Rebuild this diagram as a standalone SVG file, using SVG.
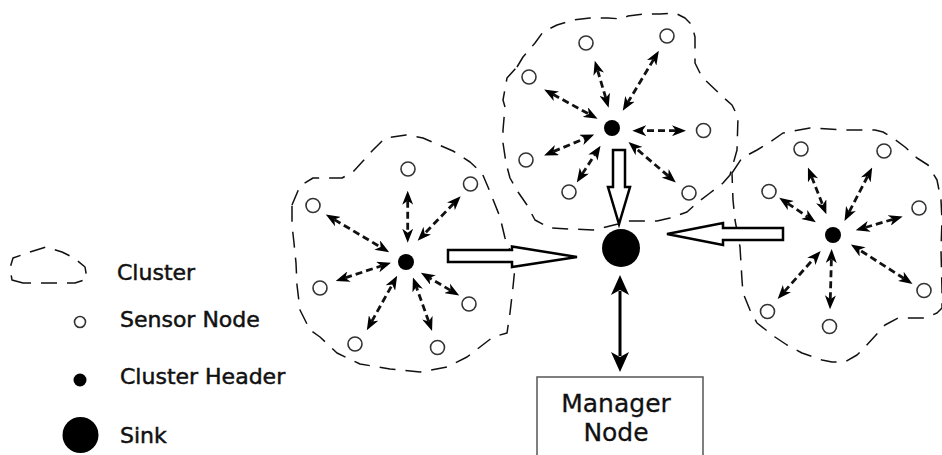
<svg xmlns="http://www.w3.org/2000/svg" width="942" height="455" viewBox="0 0 942 455">
<style>
.outline{fill:none;stroke:#111;stroke-width:1.5;stroke-dasharray:16 10;stroke-linejoin:round}
.sensor{fill:#fff;stroke:#333;stroke-width:1.6}
.head{fill:#000}
.dash{stroke:#111;stroke-width:2.8;stroke-dasharray:7 4;fill:none;marker-start:url(#ah);marker-end:url(#ah)}
.block{fill:#fff;stroke:#000;stroke-width:2.5;stroke-linejoin:miter}
.legend{font-family:"DejaVu Sans",sans-serif;font-size:22px;fill:#111;stroke:#111;stroke-width:0.5}
.mgr{font-family:"DejaVu Sans",sans-serif;font-size:25px;fill:#111;text-anchor:middle;stroke:#111;stroke-width:0.3}
</style>
<defs>
<marker id="ah" viewBox="0 0 14 11" refX="4" refY="5.5" markerWidth="14" markerHeight="11" markerUnits="userSpaceOnUse" orient="auto-start-reverse">
<path d="M0,0 L14,5.5 L0,11 L4,5.5 z" fill="#000"/>
</marker>
<marker id="bh" viewBox="0 0 20 20" refX="4" refY="10" markerWidth="20" markerHeight="20" markerUnits="userSpaceOnUse" orient="auto-start-reverse">
<path d="M0,1 L20,10 L0,19 L5,10 z" fill="#000"/>
</marker>
</defs>
<rect width="942" height="455" fill="#fff"/>

<!-- cluster outlines -->
<g id="cluster-left">
<path class="outline" d="M292,205 L300,186 L313,178 L342,178 L353,172 L373,150 L385,138 L406,135 L423,138 L453,151 L470,162 L482,173 L488,187 L500,217 L505,238 L512,255 L515,267 L513,287 L510,313 L507,333 L493,337 L480,347 L467,357 L447,367 L420,372 L390,369 L360,364 L337,353 L320,337 L310,330 L300,310 L297,285 L296,263 L294,243 L292,225 Z"/>
</g>
<g id="cluster-top">
<path class="outline" d="M517,67 L523,57 L535,43 L543,32 L557,25 L573,20 L590,18 L608,18 L622,19 L628,16 L645,14 L660,14 L675,13 L685,18 L692,25 L695,37 L695,63 L702,77 L723,97 L732,105 L738,117 L737,150 L730,175 L723,183 L710,193 L698,202 L687,212 L670,218 L657,221 L627,221 L618,224 L593,230 L570,229 L550,228 L535,220 L527,205 L518,192 L510,178 L506,163 L503,143 L503,130 L505,107 L503,100 L507,78 Z"/>
</g>
<g id="cluster-right">
<path class="outline" d="M732,173 L742,158 L757,150 L770,142 L783,133 L810,128 L848,130 L875,130 L883,132 L893,138 L905,147 L917,158 L928,165 L937,180 L941,200 L942,220 L941,250 L942,290 L942,308 L937,313 L925,318 L898,318 L885,325 L865,347 L857,355 L845,362 L832,362 L822,360 L802,353 L787,345 L775,337 L757,323 L750,310 L743,293 L742,280 L740,247 L735,220 L733,200 Z"/>
</g>

<!-- connectors -->
<g id="connectors">
<line class="dash" x1="407.7" y1="200.7" x2="407.7" y2="232.7"/>
<line class="dash" x1="453.7" y1="203.5" x2="424.6" y2="233.5"/>
<line class="dash" x1="334.4" y1="219.6" x2="380.6" y2="247.1"/>
<line class="dash" x1="345.2" y1="277.9" x2="381.5" y2="265.8"/>
<line class="dash" x1="371.7" y1="321.5" x2="392.3" y2="284.6"/>
<line class="dash" x1="428.7" y1="321.5" x2="416.3" y2="286.8"/>
<line class="dash" x1="450.6" y1="290.4" x2="429.5" y2="277.9"/>

<line class="dash" x1="597.6" y1="70.3" x2="605.8" y2="98.1"/>
<line class="dash" x1="653.7" y1="59.4" x2="627.9" y2="102.3"/>
<line class="dash" x1="552.9" y1="94.3" x2="588.8" y2="114"/>
<line class="dash" x1="676" y1="130.7" x2="642.3" y2="130.7"/>
<line class="dash" x1="553.3" y1="151.6" x2="585" y2="138.4"/>
<line class="dash" x1="582.2" y1="174.1" x2="595.1" y2="154.2"/>
<line class="dash" x1="668.2" y1="175.9" x2="636.1" y2="148.5"/>

<line class="dash" x1="811.6" y1="176.7" x2="822.7" y2="204.9"/>
<line class="dash" x1="867.6" y1="176.3" x2="849.1" y2="212"/>
<line class="dash" x1="787.5" y1="203.3" x2="807.5" y2="216.7"/>
<line class="dash" x1="893.1" y1="219.3" x2="865.3" y2="227.5"/>
<line class="dash" x1="904.1" y1="278.5" x2="859.3" y2="249.8"/>
<line class="dash" x1="784.3" y1="291.6" x2="814" y2="258.4"/>
<line class="dash" x1="830.3" y1="299.3" x2="831.4" y2="259"/>

<polygon class="block" points="448,250 512,250 512,246.5 577,257 512,267 512,262 448,262"/>
<polygon class="block" points="613,150 625,150 625,187 630,187 619,224 608,187 613,187"/>
<polygon class="block" points="783,228 783,240 723,240 723,245 667,234 723,223 723,228"/>
<line x1="620" y1="291" x2="620" y2="356" stroke="#000" stroke-width="3" marker-start="url(#bh)" marker-end="url(#bh)"/>
</g>

<!-- left cluster nodes -->
<g id="left-header"><circle class="head" cx="406" cy="262" r="8"/></g>
<g id="left-s1"><circle class="sensor" cx="408" cy="169" r="7"/></g>
<g id="left-s2"><circle class="sensor" cx="470.5" cy="184" r="7"/></g>
<g id="left-s3"><circle class="sensor" cx="313" cy="205.5" r="7"/></g>
<g id="left-s4"><circle class="sensor" cx="320" cy="288" r="7"/></g>
<g id="left-s5"><circle class="sensor" cx="355" cy="344" r="7"/></g>
<g id="left-s6"><circle class="sensor" cx="437.5" cy="347.5" r="7"/></g>
<g id="left-s7"><circle class="sensor" cx="469" cy="304" r="7"/></g>

<!-- top cluster nodes -->
<g id="top-header"><circle class="head" cx="612" cy="128" r="8"/></g>
<g id="top-s1"><circle class="sensor" cx="586" cy="43" r="7"/></g>
<g id="top-s2"><circle class="sensor" cx="667" cy="36" r="7"/></g>
<g id="top-s3"><circle class="sensor" cx="529" cy="77" r="7"/></g>
<g id="top-s4"><circle class="sensor" cx="703.5" cy="130.5" r="7"/></g>
<g id="top-s5"><circle class="sensor" cx="526" cy="160" r="7"/></g>
<g id="top-s6"><circle class="sensor" cx="569" cy="192" r="7"/></g>
<g id="top-s7"><circle class="sensor" cx="689" cy="193" r="7"/></g>

<!-- right cluster nodes -->
<g id="right-header"><circle class="head" cx="833" cy="235" r="8"/></g>
<g id="right-s1"><circle class="sensor" cx="801" cy="149" r="7"/></g>
<g id="right-s2"><circle class="sensor" cx="884" cy="151" r="7"/></g>
<g id="right-s3"><circle class="sensor" cx="769" cy="191.5" r="7"/></g>
<g id="right-s4"><circle class="sensor" cx="919" cy="208" r="7"/></g>
<g id="right-s5"><circle class="sensor" cx="924" cy="290.5" r="7"/></g>
<g id="right-s6"><circle class="sensor" cx="767.5" cy="311.5" r="7"/></g>
<g id="right-s7"><circle class="sensor" cx="829.5" cy="326.5" r="7"/></g>

<!-- sink and manager -->
<g id="sink"><circle cx="621" cy="248" r="19" fill="#000"/></g>
<g id="manager-node">
<rect x="537" y="377" width="166" height="85" fill="#fff" stroke="#555" stroke-width="1.5"/>
<text class="mgr" x="616" y="412">Manager</text>
<text class="mgr" x="616" y="441">Node</text>
</g>

<!-- legend -->
<g id="legend">
<path class="outline" stroke-dasharray="11 7" d="M23,283 L12,280 L10,268 L13,258 L30,252 L46,247 L62,252 L74,258 L85,267 L87,279 L75,283 L52,283 Z"/>
<text class="legend" x="117" y="280">Cluster</text>
<circle class="sensor" cx="80" cy="322" r="5.5"/>
<text class="legend" x="120" y="327">Sensor Node</text>
<circle class="head" cx="80" cy="380" r="6.5"/>
<text class="legend" x="120" y="384">Cluster Header</text>
<circle cx="80.5" cy="435" r="18" fill="#000"/>
<text class="legend" x="120" y="443">Sink</text>
</g>
</svg>
